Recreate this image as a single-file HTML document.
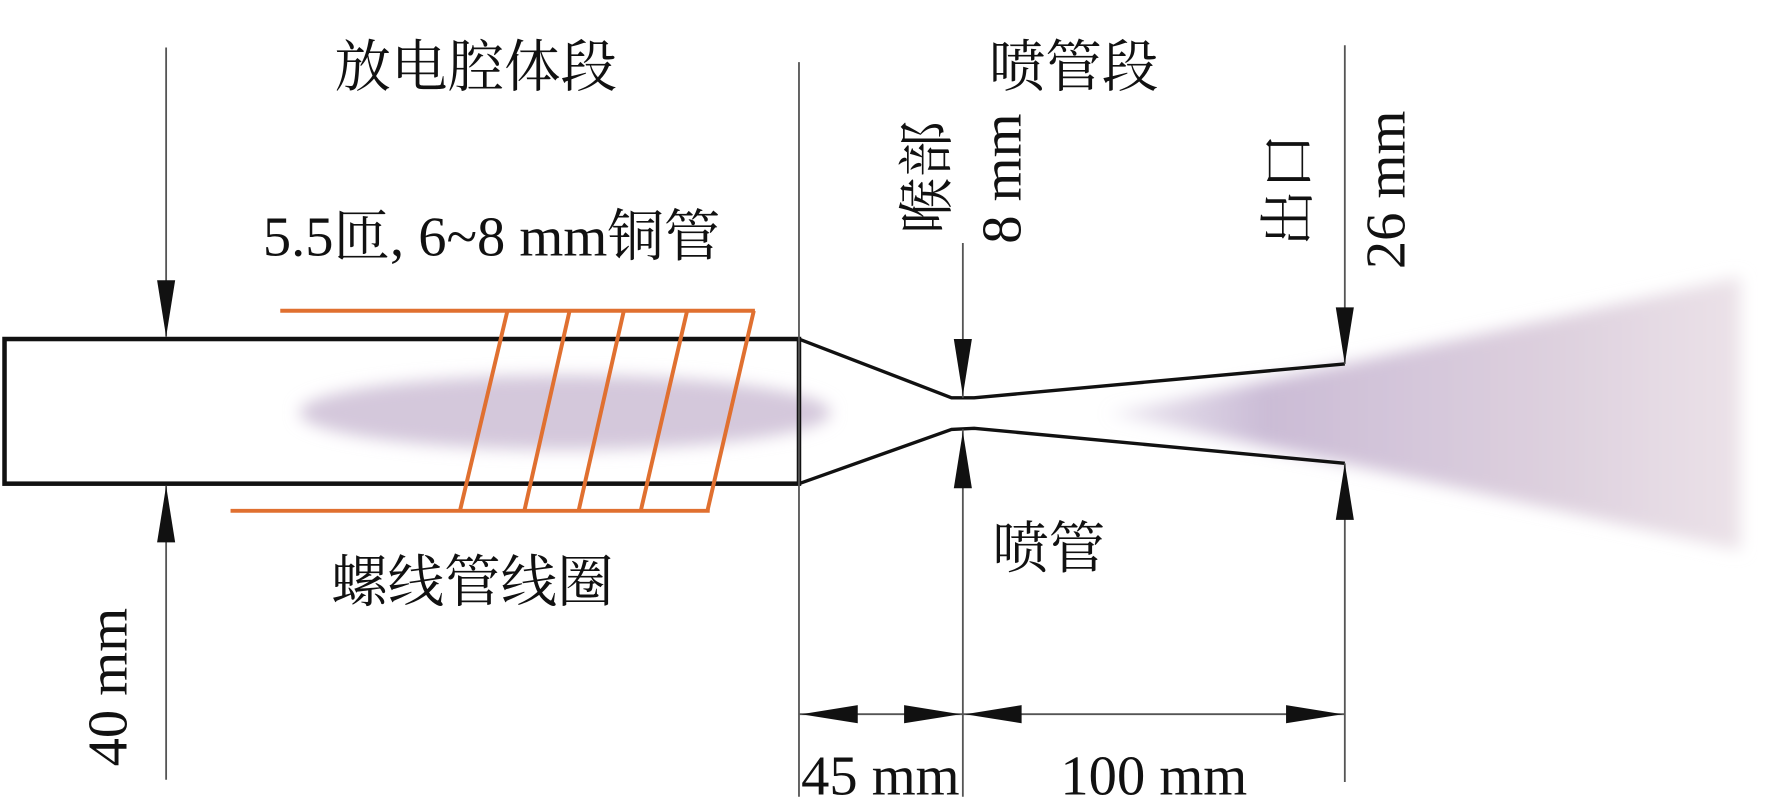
<!DOCTYPE html>
<html><head><meta charset="utf-8"><style>
html,body{margin:0;padding:0;background:#fff}
svg{display:block}
text{font-family:"Liberation Serif","Noto Serif CJK SC",serif;fill:#111}
</style></head><body>
<svg width="1772" height="808" viewBox="0 0 1568 715" preserveAspectRatio="none" xmlns="http://www.w3.org/2000/svg">
<defs>
<filter id="b1" x="-20%" y="-50%" width="140%" height="200%"><feGaussianBlur stdDeviation="7"/></filter>
<filter id="b2" x="-10%" y="-20%" width="120%" height="140%"><feGaussianBlur stdDeviation="7"/></filter>
<linearGradient id="g1" x1="0" y1="0" x2="1" y2="0">
<stop offset="0" stop-color="#c9bcd6" stop-opacity="0.3"/>
<stop offset="0.25" stop-color="#cbbcd6"/>
<stop offset="0.7" stop-color="#ddd0de"/>
<stop offset="1" stop-color="#ebe2e8"/>
</linearGradient>
</defs>
<ellipse cx="500" cy="365" rx="235" ry="33" fill="#d4c8db" filter="url(#b1)"/>
<polygon points="980,366 1190,322 1540,245 1540,487 1190,410" fill="url(#g1)" filter="url(#b2)"/>
<rect x="4" y="300" width="703" height="128" fill="none" stroke="#111" stroke-width="4"/>
<polyline points="707,300 842,352 862,352 1190,322" fill="none" stroke="#111" stroke-width="3"/>
<polyline points="707,428 842,380 862,379 1190,410" fill="none" stroke="#111" stroke-width="3"/>
<g stroke="#e07030" stroke-width="3.5" fill="none">
<line x1="248" y1="275" x2="668" y2="275"/>
<line x1="204" y1="452" x2="628" y2="452"/>
<line x1="449" y1="275" x2="407" y2="452"/>
<line x1="504" y1="275" x2="464" y2="452"/>
<line x1="552" y1="275" x2="512" y2="452"/>
<line x1="608" y1="275" x2="567" y2="452"/>
<line x1="667" y1="275" x2="626" y2="452"/>
</g>
<g stroke="#555" stroke-width="1.6">
<line x1="147" y1="42" x2="147" y2="298"/>
<line x1="147" y1="430" x2="147" y2="690"/>
<line x1="707" y1="55" x2="707" y2="705"/>
<line x1="852" y1="215" x2="852" y2="352"/>
<line x1="852" y1="380" x2="852" y2="705"/>
<line x1="1190" y1="40" x2="1190" y2="322"/>
<line x1="1190" y1="410" x2="1190" y2="692"/>
<line x1="707" y1="632" x2="1190" y2="632"/>
</g>
<g fill="#111">
<polygon points="147,298 139,248 155,248"/>
<polygon points="147,430 139,480 155,480"/>
<polygon points="852,350 844,300 860,300"/>
<polygon points="852,382 844,432 860,432"/>
<polygon points="1190,322 1182,272 1198,272"/>
<polygon points="1190,410 1182,460 1198,460"/>
<polygon points="709,632 759,624 759,640"/>
<polygon points="850,632 800,624 800,640"/>
<polygon points="854,632 904,624 904,640"/>
<polygon points="1188,632 1138,624 1138,640"/>
</g>
<g font-size="50">
<text x="421" y="76" text-anchor="middle">放电腔体段</text>
<text x="950" y="76" text-anchor="middle">喷管段</text>
<text x="435" y="226" text-anchor="middle">5.5匝, 6~8 mm铜管</text>
<text x="418" y="532" text-anchor="middle">螺线管线圈</text>
<text x="928" y="502" text-anchor="middle">喷管</text>
<text x="779" y="703" text-anchor="middle">45 mm</text>
<text x="1021" y="703" text-anchor="middle">100 mm</text>
<text transform="translate(112,608) rotate(-90)" text-anchor="middle">40 mm</text>
<text transform="translate(837,157) rotate(-90)" text-anchor="middle">喉部</text>
<text transform="translate(903,158) rotate(-90)" text-anchor="middle">8 mm</text>
<text transform="translate(1157,168) rotate(-90)" text-anchor="middle">出口</text>
<text transform="translate(1243,168) rotate(-90)" text-anchor="middle">26 mm</text>
</g>
</svg>
</body></html>
